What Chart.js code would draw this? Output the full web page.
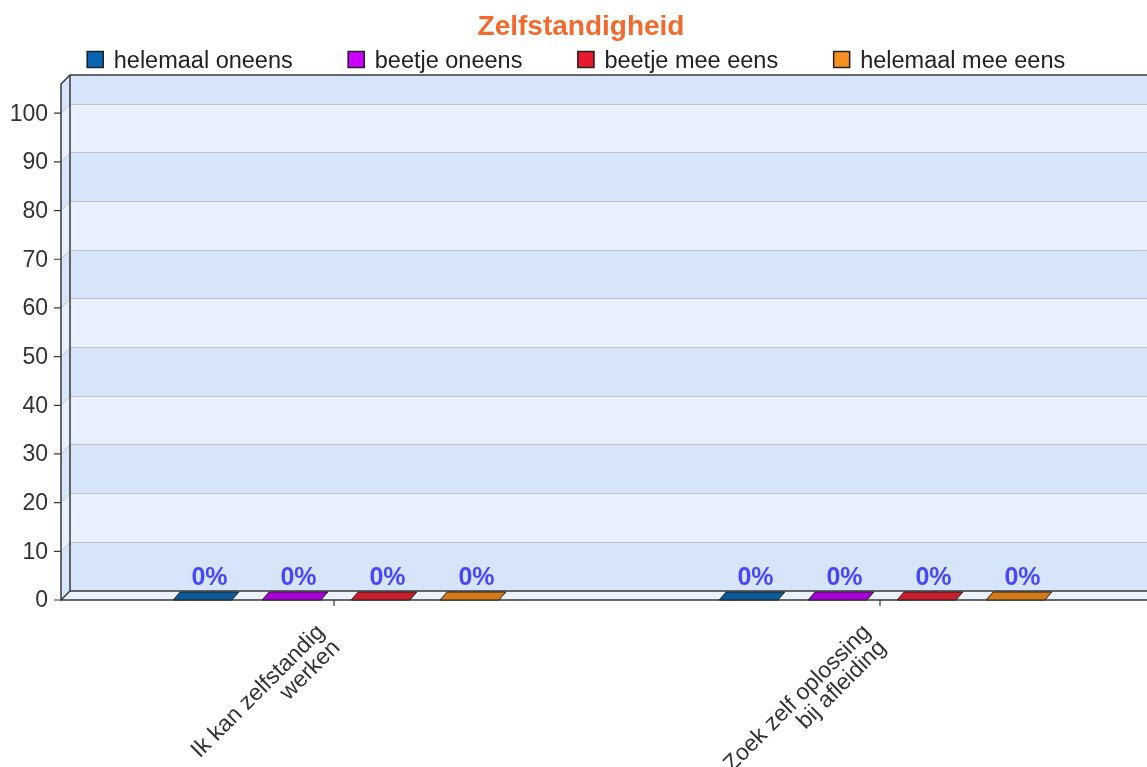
<!DOCTYPE html>
<html>
<head>
<meta charset="utf-8">
<title>Zelfstandigheid</title>
<script src="https://cdn.jsdelivr.net/npm/chart.js@4.4.1/dist/chart.umd.min.js"></script>
<style>
  html, body { margin: 0; padding: 0; background: #fff; overflow: hidden; }
  #wrap { width: 1162px; height: 767px; }
</style>
</head>
<body>
<div id="wrap"><canvas id="zelfChart" width="1162" height="767"></canvas></div>
<script>
// data
var categories = [['Ik kan zelfstandig', 'werken'], ['Zoek zelf oplossing', 'bij afleiding']];
var seriesNames = ['helemaal oneens', 'beetje oneens', 'beetje mee eens', 'helemaal mee eens'];
var helemaalOneens = [0, 0];
var beetjeOneens = [0, 0];
var beetjeMeeEens = [0, 0];
var helemaalMeeEens = [0, 0];
var yTickValues = [0, 10, 20, 30, 40, 50, 60, 70, 80, 90, 100];

// colours
var legendColors = ['#0a64b4', '#cc00ff', '#e8192c', '#f7901e'];
var barTopColors = ['#0b5996', '#a600d6', '#c81d2a', '#d27a18'];
var bandDark = '#d7e5fb';
var bandLight = '#e8f0fd';
var floorColor = '#eaf1fc';
var edgeColor = '#3a3a3a';
var FONT = '"Liberation Sans", Arial, sans-serif';

// 3d depth of the walls
var DX = 9, DY = 9, BAR_SHEAR = 7;

var seriesValues = [helemaalOneens, beetjeOneens, beetjeMeeEens, helemaalMeeEens];

var box3d = {
    id: 'box3d',
    beforeDraw: function(chart) {
        var ctx = chart.ctx, a = chart.chartArea, y = chart.scales.y;
        ctx.save();
        for (var v = 0; v < y.max; v += 10) {
            var top = y.getPixelForValue(Math.min(v + 10, y.max));
            var bot = y.getPixelForValue(v);
            ctx.fillStyle = (v / 10) % 2 === 0 ? bandDark : bandLight;
            ctx.fillRect(a.left, top, a.right - a.left, bot - top);
            ctx.beginPath();
            ctx.moveTo(a.left, top);
            ctx.lineTo(a.left, bot);
            ctx.lineTo(a.left - DX, bot + DY);
            ctx.lineTo(a.left - DX, top + DY);
            ctx.closePath();
            ctx.fill();
        }
        // grid stubs on the side wall
        ctx.strokeStyle = '#c2c2c2';
        ctx.lineWidth = 1;
        yTickValues.forEach(function(t) {
            if (t === 0) return;
            var gy = y.getPixelForValue(t);
            ctx.beginPath();
            ctx.moveTo(a.left, gy);
            ctx.lineTo(a.left - DX, gy + DY);
            ctx.stroke();
        });
        ctx.restore();
    },
    beforeDatasetsDraw: function(chart) {
        var ctx = chart.ctx, a = chart.chartArea, y = chart.scales.y, x = chart.scales.x;
        var right = chart.width;
        ctx.save();
        // floor
        ctx.fillStyle = floorColor;
        ctx.beginPath();
        ctx.moveTo(a.left, a.bottom);
        ctx.lineTo(right + DX, a.bottom);
        ctx.lineTo(right, a.bottom + DY);
        ctx.lineTo(a.left - DX, a.bottom + DY);
        ctx.closePath();
        ctx.fill();

        ctx.strokeStyle = edgeColor;
        ctx.lineWidth = 1.5;
        ctx.beginPath();
        // back wall top + left edge
        ctx.moveTo(right, a.top);
        ctx.lineTo(a.left, a.top);
        ctx.lineTo(a.left, a.bottom);
        ctx.lineTo(right, a.bottom);
        // side wall
        ctx.moveTo(a.left, a.top);
        ctx.lineTo(a.left - DX, a.top + DY);
        ctx.lineTo(a.left - DX, a.bottom + DY);
        ctx.lineTo(a.left, a.bottom);
        // front edge
        ctx.moveTo(a.left - DX, a.bottom + DY);
        ctx.lineTo(right, a.bottom + DY);
        ctx.stroke();

        // value axis ticks
        ctx.lineWidth = 1.2;
        ctx.beginPath();
        yTickValues.forEach(function(t) {
            var gy = y.getPixelForValue(t) + DY;
            ctx.moveTo(a.left - DX - 7, gy);
            ctx.lineTo(a.left - DX, gy);
        });
        // category ticks
        categories.forEach(function(c, i) {
            var tx = x.getPixelForTick(i) - DX;
            ctx.moveTo(tx, a.bottom + DY);
            ctx.lineTo(tx, a.bottom + DY + 6);
        });
        ctx.stroke();
        ctx.restore();
    },
    afterDatasetsDraw: function(chart) {
        var ctx = chart.ctx, y = chart.scales.y;
        var base = y.getPixelForValue(0);
        ctx.save();
        chart.data.datasets.forEach(function(ds, i) {
            var meta = chart.getDatasetMeta(i);
            meta.data.forEach(function(el, j) {
                var h = el.width / 2;
                var top = y.getPixelForValue(ds.data[j]);
                ctx.fillStyle = barTopColors[i];
                ctx.strokeStyle = '#222';
                ctx.lineWidth = 1;
                ctx.beginPath();
                ctx.moveTo(el.x - h, top + 1);
                ctx.lineTo(el.x + h, top + 1);
                ctx.lineTo(el.x + h - BAR_SHEAR, base + DY);
                ctx.lineTo(el.x - h - BAR_SHEAR, base + DY);
                ctx.closePath();
                ctx.fill();
                ctx.stroke();

                ctx.fillStyle = '#4646ff';
                ctx.font = 'bold 25px ' + FONT;
                ctx.textAlign = 'center';
                ctx.textBaseline = 'alphabetic';
                ctx.fillText(ds.data[j] + '%', el.x, top - 6);
            });
        });
        ctx.restore();
    },
    afterDraw: function(chart) {
        // legend row
        var ctx = chart.ctx;
        ctx.save();
        ctx.font = '23.5px ' + FONT;
        var gap = 55, sq = 17;
        var items = chart.data.datasets.map(function(ds) {
            return { label: ds.label, color: ds.backgroundColor, w: sq + 10 + ctx.measureText(ds.label).width };
        });
        var total = items.reduce(function(s, it) { return s + it.w; }, 0) + gap * (items.length - 1);
        var lx = 576 - total / 2;
        items.forEach(function(it) {
            ctx.fillStyle = it.color;
            ctx.fillRect(lx, 51, sq, sq);
            ctx.strokeStyle = '#222';
            ctx.lineWidth = 1.5;
            ctx.strokeRect(lx + 0.5, 51.5, sq - 1, sq - 1);
            ctx.fillStyle = '#222';
            ctx.textAlign = 'left';
            ctx.textBaseline = 'alphabetic';
            ctx.fillText(it.label, lx + sq + 10, 68);
            lx += it.w + gap;
        });
        ctx.restore();
    }
};

var ctx = document.getElementById('zelfChart').getContext('2d');
var zelfChart = new Chart(ctx, {
    type: 'bar',
    data: {
        labels: categories,
        datasets: seriesNames.map(function(name, i) {
            return {
                label: name,
                data: seriesValues[i],
                backgroundColor: legendColors[i],
                borderWidth: 0,
                barPercentage: 0.66,
                categoryPercentage: 0.652
            };
        })
    },
    options: {
        responsive: false,
        animation: false,
        layout: { padding: 0 },
        plugins: {
            legend: { display: false },
            tooltip: { enabled: false },
            title: {
                display: true,
                text: 'Zelfstandigheid',
                color: '#f4692e',
                font: { family: FONT, size: 28, weight: 'bold', lineHeight: 1.2 },
                padding: { top: 10, bottom: 31.4 }
            }
        },
        scales: {
            x: {
                grid: { display: false },
                border: { display: false },
                afterFit: function(s) { s.height = 176; },
                ticks: {
                    autoSkip: false,
                    minRotation: 45,
                    maxRotation: 45,
                    padding: 22,
                    labelOffset: -22,
                    color: '#333',
                    font: { family: FONT, size: 23, lineHeight: 0.95 }
                }
            },
            y: {
                min: 0,
                max: 106,
                afterFit: function(s) { s.width = 70; },
                afterBuildTicks: function(s) {
                    s.ticks = yTickValues.map(function(v) { return { value: v }; });
                },
                grid: {
                    drawTicks: false,
                    color: function(c) { return c.tick && c.tick.value === 0 ? edgeColor : '#c2c2c2'; },
                    lineWidth: 1
                },
                border: { display: false },
                ticks: {
                    padding: 22,
                    labelOffset: 10,
                    color: '#333',
                    font: { family: FONT, size: 23 }
                }
            }
        }
    },
    plugins: [box3d]
});
</script>
</body>
</html>
